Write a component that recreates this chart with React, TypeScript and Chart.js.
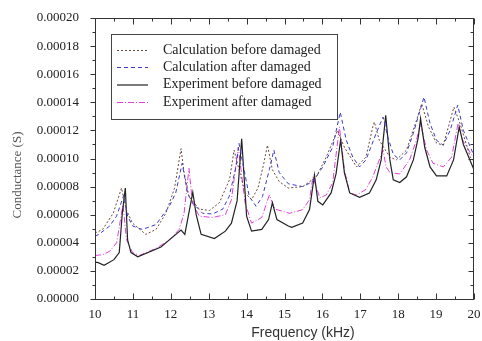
import React, { useEffect, useRef } from "react";
import { Chart, registerables } from "chart.js";
Chart.register(...registerables);

// Frequency in kHz, conductance in units of 1e-5 S (converted below)
const calcBeforeFreq = [10.0, 10.2, 10.48, 10.7, 10.82, 10.99, 11.34, 11.61, 11.87, 12.1, 12.27, 12.35, 12.48, 12.75, 13.02, 13.28, 13.55, 13.67, 13.8, 13.96, 14.13, 14.3, 14.45, 14.55, 14.68, 14.86, 15.1, 15.48, 15.84, 16.1, 16.4, 16.58, 16.9, 17.15, 17.33, 17.37, 17.5, 17.78, 17.95, 18.22, 18.48, 18.62, 18.8, 19.01, 19.19, 19.37, 19.47, 19.63, 19.9, 20.0];
const calcBeforeG = [4.7, 4.95, 6.1, 7.9, 6.4, 5.4, 4.6, 4.95, 6.1, 7.9, 10.7, 9.0, 7.3, 6.4, 6.3, 6.85, 8.5, 10.6, 9.2, 7.55, 7.07, 7.9, 9.6, 10.95, 9.2, 8.36, 7.9, 8.0, 8.7, 10.1, 12.0, 10.8, 9.4, 10.1, 12.25, 12.6, 11.3, 10.1, 9.9, 10.6, 12.7, 13.9, 12.25, 11.1, 10.95, 12.7, 13.66, 12.5, 10.1, 9.8];

const calcAfterFreq = [10.0, 10.1, 10.39, 10.57, 10.76, 10.86, 10.99, 11.25, 11.61, 11.96, 12.13, 12.3, 12.44, 12.57, 12.84, 13.1, 13.37, 13.54, 13.72, 13.8, 13.9, 14.07, 14.25, 14.42, 14.6, 14.72, 14.86, 15.1, 15.48, 15.75, 16.01, 16.27, 16.47, 16.63, 16.8, 16.98, 17.15, 17.42, 17.6, 17.73, 17.87, 18.04, 18.22, 18.4, 18.68, 18.84, 19.01, 19.19, 19.37, 19.57, 19.72, 20.0];
const calcAfterG = [4.47, 4.6, 5.2, 5.9, 7.4, 5.9, 5.2, 4.95, 5.3, 6.6, 7.55, 9.66, 7.55, 6.85, 6.1, 6.05, 6.4, 7.3, 9.4, 11.07, 9.66, 7.3, 6.6, 7.3, 9.2, 10.6, 9.0, 8.2, 8.0, 8.36, 9.4, 10.8, 13.3, 11.3, 10.1, 9.4, 9.9, 11.8, 12.95, 11.5, 10.3, 9.9, 10.4, 11.8, 14.37, 12.5, 11.3, 10.95, 12.0, 13.8, 12.0, 10.2];

const expBeforeFreq = [10.0, 10.07, 10.24, 10.5, 10.64, 10.72, 10.8, 10.86, 10.95, 11.13, 11.74, 12.0, 12.27, 12.37, 12.58, 12.67, 12.8, 13.15, 13.44, 13.6, 13.75, 13.87, 14.0, 14.13, 14.4, 14.58, 14.68, 14.8, 15.1, 15.19, 15.48, 15.66, 15.79, 15.88, 16.01, 16.23, 16.36, 16.48, 16.58, 16.72, 16.98, 17.24, 17.42, 17.55, 17.67, 17.78, 17.87, 18.04, 18.22, 18.4, 18.53, 18.59, 18.7, 18.84, 19.01, 19.28, 19.46, 19.61, 19.72, 20.0];
const expBeforeG = [2.6, 2.6, 2.4, 2.8, 3.3, 6.1, 7.9, 4.2, 3.3, 3.0, 3.7, 4.3, 4.9, 4.6, 7.6, 6.0, 4.6, 4.3, 4.83, 5.4, 7.0, 11.4, 5.9, 4.83, 4.95, 5.65, 6.85, 5.65, 5.2, 5.1, 5.4, 6.36, 8.83, 6.95, 6.7, 7.55, 8.9, 11.3, 9.0, 7.55, 7.23, 7.55, 8.48, 9.9, 13.07, 9.9, 8.48, 8.29, 8.7, 9.9, 11.5, 12.84, 10.8, 9.4, 8.76, 8.76, 9.9, 12.25, 11.0, 9.2];

const expAfterFreq = [10.0, 10.2, 10.39, 10.57, 10.7, 10.74, 10.83, 10.99, 11.17, 11.61, 11.96, 12.22, 12.35, 12.48, 12.57, 12.75, 13.1, 13.44, 13.6, 13.78, 13.96, 14.13, 14.4, 14.6, 14.75, 15.13, 15.48, 15.66, 15.75, 15.93, 16.1, 16.27, 16.45, 16.58, 16.72, 16.9, 17.15, 17.33, 17.6, 17.68, 17.78, 18.04, 18.3, 18.48, 18.59, 18.75, 18.92, 19.19, 19.41, 19.58, 19.7, 20.0];
const expAfterG = [3.1, 3.15, 3.4, 4.0, 6.1, 6.7, 4.24, 3.3, 3.1, 3.6, 4.2, 4.95, 6.1, 9.3, 6.85, 5.9, 5.8, 6.0, 7.07, 10.8, 6.85, 5.4, 5.8, 7.4, 6.4, 6.1, 6.36, 7.07, 8.7, 7.2, 7.4, 8.26, 12.25, 9.2, 7.55, 7.4, 7.8, 8.7, 10.6, 9.4, 9.0, 8.9, 9.9, 11.3, 12.5, 10.6, 9.66, 9.4, 10.1, 12.5, 11.3, 10.0];

const seriesLabels = [
  "Calculation before damaged",
  "Calculation after damaged",
  "Experiment before damaged",
  "Experiment after damaged",
];
const xMin = 10;
const xMax = 20;
const yMin = 0;
const yMax = 0.0002;
const yStep = 0.00002;
const xTitle = "Frequency (kHz)";
const yTitle = "Conductance (S)";

const UNIT = 1e-5;
const toPoints = (fs: number[], gs: number[]) => fs.map((f, i) => ({ x: f, y: gs[i] * UNIT }));

const SERIF = "'Liberation Serif', 'Times New Roman', serif";
const SANS = "'Liberation Sans', Arial, sans-serif";

const framePlugin = {
  id: "frameAndLegend",
  afterDraw(chart: any) {
    const { ctx, chartArea: a, scales } = chart;
    const x = scales.x;
    const y = scales.y;
    const L = Math.round(a.left) + 0.5;
    const R = Math.round(a.right) - 0.5;
    const T = Math.round(a.top) + 0.5;
    const B = Math.round(a.bottom) + 0.5;
    ctx.save();
    ctx.strokeStyle = "#333";
    ctx.lineWidth = 1;
    ctx.setLineDash([]);
    ctx.strokeRect(L, T, R - L, B - T);
    ctx.beginPath();
    for (let k = 0; k <= 20; k++) {
      const v = xMin + k * 0.5;
      const px = Math.round(x.getPixelForValue(v)) + 0.5;
      const len = k % 2 === 0 ? 6 : 3;
      ctx.moveTo(px, B);
      ctx.lineTo(px, B - len);
      ctx.moveTo(px, T);
      ctx.lineTo(px, T + len);
    }
    for (let k = 0; k <= 20; k++) {
      const v = k * 0.00001;
      const py = Math.round(y.getPixelForValue(v)) + 0.5;
      const len = k % 2 === 0 ? 5 : 3;
      ctx.moveTo(L - len, py);
      ctx.lineTo(L, py);
      ctx.moveTo(R - len, py);
      ctx.lineTo(R, py);
    }
    ctx.stroke();

    // axis titles
    ctx.fillStyle = "#555";
    ctx.font = `13px ${SERIF}`;
    ctx.textAlign = "center";
    ctx.textBaseline = "middle";
    ctx.save();
    ctx.translate(18, 175);
    ctx.rotate(-Math.PI / 2);
    ctx.fillText(yTitle, 0, 0);
    ctx.restore();
    ctx.fillStyle = "#333";
    ctx.font = `14px ${SANS}`;
    ctx.fillText(xTitle, 303, 333);

    // legend box
    const bx = 111.5, by = 34.5, bw = 226, bh = 85;
    ctx.fillStyle = "#fff";
    ctx.fillRect(bx, by, bw, bh);
    ctx.strokeStyle = "#444";
    ctx.strokeRect(bx, by, bw, bh);
    const rows = [50, 67, 84.5, 102];
    chart.data.datasets.forEach((ds: any, i: number) => {
      const ry = rows[i] + 0.5;
      ctx.strokeStyle = ds.borderColor;
      ctx.lineWidth = ds.borderWidth;
      ctx.setLineDash(ds.borderDash || []);
      ctx.beginPath();
      ctx.moveTo(117, ry);
      ctx.lineTo(148, ry);
      ctx.stroke();
      ctx.setLineDash([]);
      ctx.fillStyle = "#222";
      ctx.font = `14px ${SERIF}`;
      ctx.textAlign = "left";
      ctx.textBaseline = "middle";
      ctx.fillText(ds.label, 163, rows[i]);
    });
    ctx.restore();
  },
};

export default function App() {
  const ref = useRef<HTMLCanvasElement | null>(null);
  useEffect(() => {
    document.body.style.margin = "0";
    const canvas = ref.current!;
    const chart = new Chart(canvas, {
      type: "line",
      data: {
        datasets: [
          {
            label: seriesLabels[0],
            data: toPoints(calcBeforeFreq, calcBeforeG),
            borderColor: "#6b4a3a",
            borderWidth: 1,
            borderDash: [2, 2],
          },
          {
            label: seriesLabels[1],
            data: toPoints(calcAfterFreq, calcAfterG),
            borderColor: "#3b3bc8",
            borderWidth: 1,
            borderDash: [4, 3],
          },
          {
            label: seriesLabels[2],
            data: toPoints(expBeforeFreq, expBeforeG),
            borderColor: "#222",
            borderWidth: 1.2,
            borderDash: [],
          },
          {
            label: seriesLabels[3],
            data: toPoints(expAfterFreq, expAfterG),
            borderColor: "#e040d8",
            borderWidth: 1,
            borderDash: [6, 2, 1, 2],
          },
        ] as any,
      },
      options: {
        animation: false,
        responsive: false,
        maintainAspectRatio: false,
        devicePixelRatio: 1,
        layout: { padding: { left: 0, top: 18, right: 8, bottom: 0 } },
        elements: { point: { radius: 0 }, line: { tension: 0 } },
        plugins: { legend: { display: false }, tooltip: { enabled: false } },
        scales: {
          x: {
            type: "linear",
            min: xMin,
            max: xMax,
            grid: { display: false },
            border: { display: false },
            ticks: {
              stepSize: 1,
              padding: 0,
              color: "#222",
              font: { family: SERIF, size: 13 },
              maxRotation: 0,
            },
            afterFit: (s: any) => {
              s.height = 42;
            },
          },
          y: {
            type: "linear",
            min: yMin,
            max: yMax,
            grid: { display: false },
            border: { display: false },
            ticks: {
              stepSize: yStep,
              padding: 8,
              color: "#222",
              font: { family: SERIF, size: 13 },
              callback: (v: any) => Number(v).toFixed(5),
            },
            afterFit: (s: any) => {
              s.width = 95;
            },
          },
        },
      },
      plugins: [framePlugin],
    });
    return () => chart.destroy();
  }, []);
  return (
    <div style={{ position: "absolute", left: 0, top: 0, width: 482, height: 341, background: "#fff" }}>
      <canvas ref={ref} width={482} height={341} style={{ width: 482, height: 341, display: "block" }} />
    </div>
  );
}
